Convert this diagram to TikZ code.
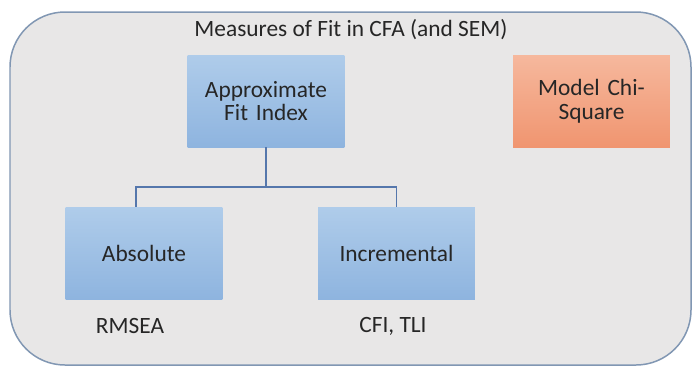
\documentclass[tikz,border=0pt]{standalone}
\usepackage{fontspec}
\setmainfont{Carlito}
\usepackage{xcolor}
\usepackage{tikz}
\usetikzlibrary{positioning}

\definecolor{panelgray}{HTML}{E8E7E7}
\definecolor{panelline}{HTML}{8197B3}
\definecolor{boxtop}{HTML}{AFCCEA}
\definecolor{boxbot}{HTML}{8EB4DF}
\definecolor{chitop}{HTML}{F6B89D}
\definecolor{chibot}{HTML}{F09570}
\definecolor{linkblue}{HTML}{5577AC}
\definecolor{txt}{HTML}{262626}

\begin{document}
\begin{tikzpicture}[
			font=\fontsize{13.3}{13.4}\selectfont, text=txt,
			fitbox/.style={rectangle, minimum width=3.08cm, minimum height=1.84cm, text width=2.9cm, align=center, top color=boxtop, bottom color=boxbot},
			chibox/.style={fitbox, top color=chitop, bottom color=chibot},
			link/.style={draw=linkblue, line width=1.1pt},
		]
		\useasboundingbox (0,0) rectangle (13.88,-7.32);
		\draw[panelline, fill=panelgray, line width=0.85pt, rounded corners=1.1cm] (0.2,-0.24) rectangle (13.82,-7.3);

		\node (title) at (7.02,-0.6) {Measures of Fit in CFA (and SEM)};

		\node[fitbox] (afi) at (5.32,-2.02)  {Approximate\\Fit Index};
		\node[chibox] (chi) at (11.83,-2.02) {Model Chi-\\Square};
		\node[fitbox] (abs) at (2.88,-5.07)  {Absolute};
		\node[fitbox] (inc) at (7.93,-5.07)  {Incremental};

		\node (rmsea) at (2.6,-6.52)  {RMSEA};
		\node (cfi)   at (7.86,-6.52) {CFI, TLI};

		% tree lines
		\draw[link] (afi.south) -- ++(0,-0.8) coordinate (fork);
		\draw[link] (fork) -| ([xshift=-0.16cm]abs.north);
		\draw[link] (fork) -| (inc.north);

		\end{tikzpicture}
\end{document}
